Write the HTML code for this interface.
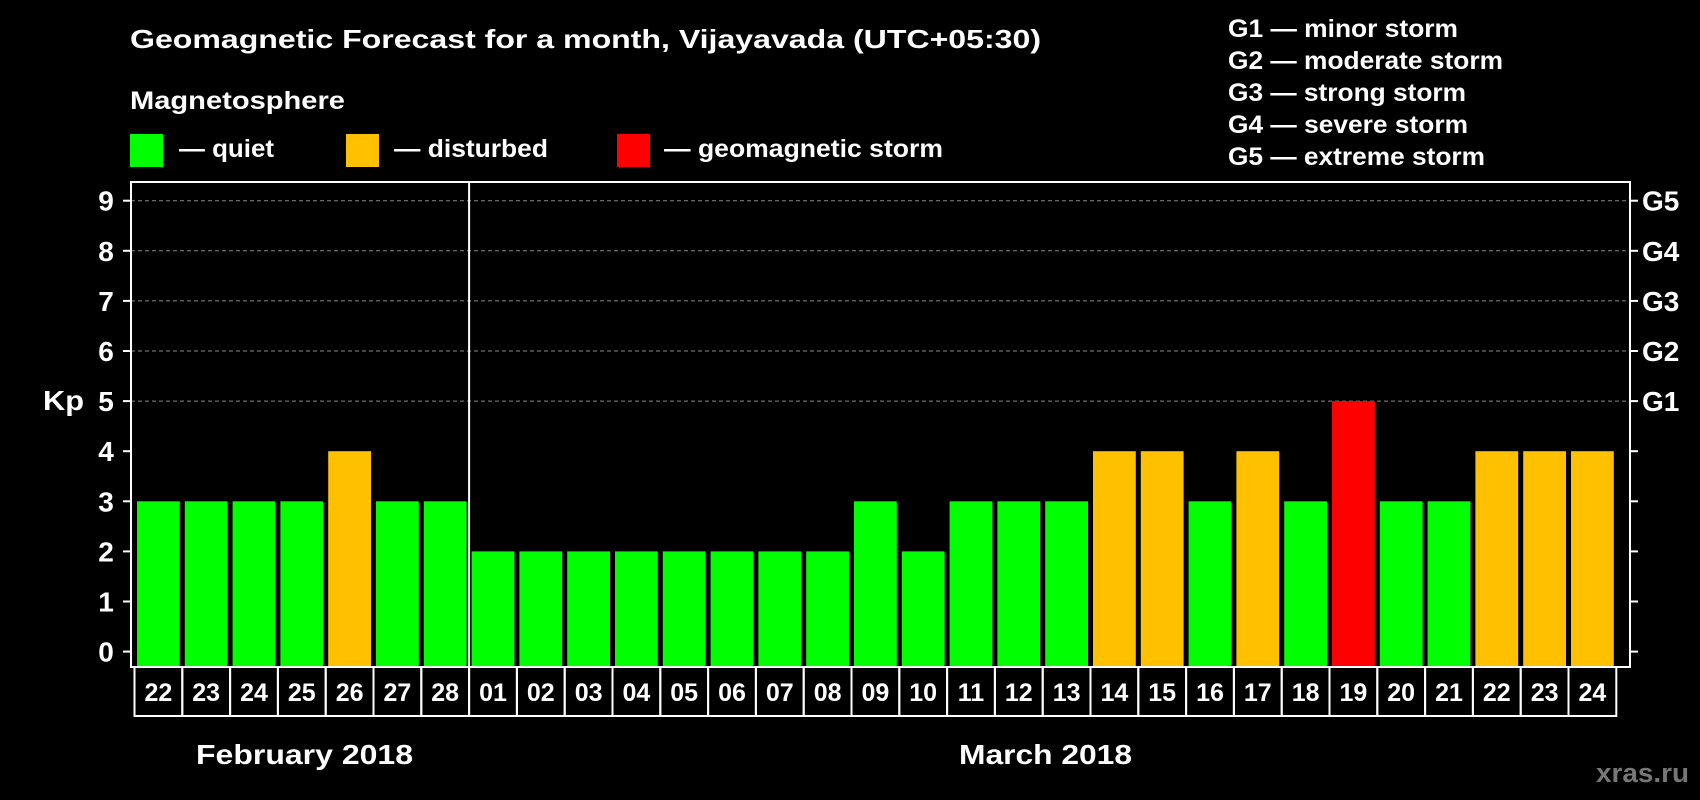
<!DOCTYPE html>
<html><head><meta charset="utf-8"><style>
html,body{margin:0;padding:0;background:#000;width:1700px;height:800px;overflow:hidden}
svg{display:block}
text{font-family:"Liberation Sans",Arial,sans-serif;font-weight:bold;fill:#fff}
</style></head><body>
<svg id="chart" width="1700" height="800" xmlns="http://www.w3.org/2000/svg">
<text x="130" y="48" font-size="26" textLength="911" lengthAdjust="spacingAndGlyphs">Geomagnetic Forecast for a month, Vijayavada (UTC+05:30)</text>
<text x="130" y="109" font-size="25" textLength="215" lengthAdjust="spacingAndGlyphs">Magnetosphere</text>
<g>
<rect x="130" y="134" width="33" height="33" fill="#00ff00"/>
<text x="179" y="157" font-size="25" textLength="95" lengthAdjust="spacingAndGlyphs">— quiet</text>
<rect x="346" y="134" width="33" height="33" fill="#ffc000"/>
<text x="394" y="157" font-size="25" textLength="154" lengthAdjust="spacingAndGlyphs">— disturbed</text>
<rect x="617" y="134" width="33" height="33" fill="#ff0000"/>
<text x="664" y="157" font-size="25" textLength="279" lengthAdjust="spacingAndGlyphs">— geomagnetic storm</text>
</g>
<g font-size="25">
<text x="1228" y="37" textLength="230" lengthAdjust="spacingAndGlyphs">G1 — minor storm</text>
<text x="1228" y="69" textLength="275" lengthAdjust="spacingAndGlyphs">G2 — moderate storm</text>
<text x="1228" y="101" textLength="238" lengthAdjust="spacingAndGlyphs">G3 — strong storm</text>
<text x="1228" y="133" textLength="240" lengthAdjust="spacingAndGlyphs">G4 — severe storm</text>
<text x="1228" y="165" textLength="257" lengthAdjust="spacingAndGlyphs">G5 — extreme storm</text>
</g>
<text x="43" y="410" font-size="28" textLength="41" lengthAdjust="spacingAndGlyphs">Kp</text>
<text x="196" y="764" font-size="28" textLength="217" lengthAdjust="spacingAndGlyphs">February 2018</text>
<text x="959" y="764" font-size="28" textLength="173" lengthAdjust="spacingAndGlyphs">March 2018</text>
<text x="1596" y="782" font-size="27" textLength="93" lengthAdjust="spacingAndGlyphs" style="fill:#777">xras.ru</text>
<g id="grid"></g><g id="bars"></g><g id="axes"></g>
</svg>
<script>
const days = ["22","23","24","25","26","27","28","01","02","03","04","05","06","07","08","09","10","11","12","13","14","15","16","17","18","19","20","21","22","23","24"];
const kp = [3,3,3,3,4,3,3,2,2,2,2,2,2,2,2,3,2,3,3,3,4,4,3,4,3,5,3,3,4,4,4];
const yTicks = [0,1,2,3,4,5,6,7,8,9];
const gLabels = ["G1","G2","G3","G4","G5"];
const gLevels = [5,6,7,8,9];
const NS="http://www.w3.org/2000/svg";
const L=131,R=1630,T=182,B=667;
const slot=47.8, firstX=134.5, barW=42.8;
const y=v=>651.6-v*50.1;
const x=i=>firstX+i*slot;
function mk(tag,attrs,parent){const e=document.createElementNS(NS,tag);for(const k in attrs)e.setAttribute(k,attrs[k]);parent.appendChild(e);return e;}
const grid=document.getElementById('grid'),bars=document.getElementById('bars'),axes=document.getElementById('axes');
gLevels.forEach(v=>{const l=mk('line',{x1:L,x2:R,y1:y(v),y2:y(v),stroke:'#888','stroke-dasharray':'4,3','stroke-width':1},grid);

});
kp.forEach((v,i)=>{const c=v>=5?'#ff0000':(v>=4?'#ffc000':'#00ff00');
const r=mk('rect',{x:x(i)+2.5,y:y(v),width:barW,height:B-y(v),fill:c},bars);

});
const fr=mk('rect',{x:L,y:T,width:R-L,height:B-T,fill:'none',stroke:'#fff','stroke-width':2},axes);


const sep=mk('line',{x1:x(7),x2:x(7),y1:T,y2:B,stroke:'#fff','stroke-width':2},axes);


yTicks.forEach(v=>{mk('line',{x1:L-8,x2:L,y1:y(v),y2:y(v),stroke:'#fff','stroke-width':2},axes);
mk('line',{x1:R,x2:R+8,y1:y(v),y2:y(v),stroke:'#fff','stroke-width':2},axes);
const t=mk('text',{x:106,y:y(v)+10,'font-size':28,'text-anchor':'middle'},axes);t.textContent=v;

});
gLabels.forEach((g,i)=>{const t=mk('text',{x:1642,y:y(gLevels[i])+10,'font-size':28},axes);t.textContent=g;

});
days.forEach((d,i)=>{const b=mk('rect',{x:x(i),y:B,width:slot,height:49,fill:'none',stroke:'#fff','stroke-width':2},axes);


const t=mk('text',{x:x(i)+slot/2,y:B+34,'font-size':25,'text-anchor':'middle'},axes);t.textContent=d;

});
</script>
</body></html>
